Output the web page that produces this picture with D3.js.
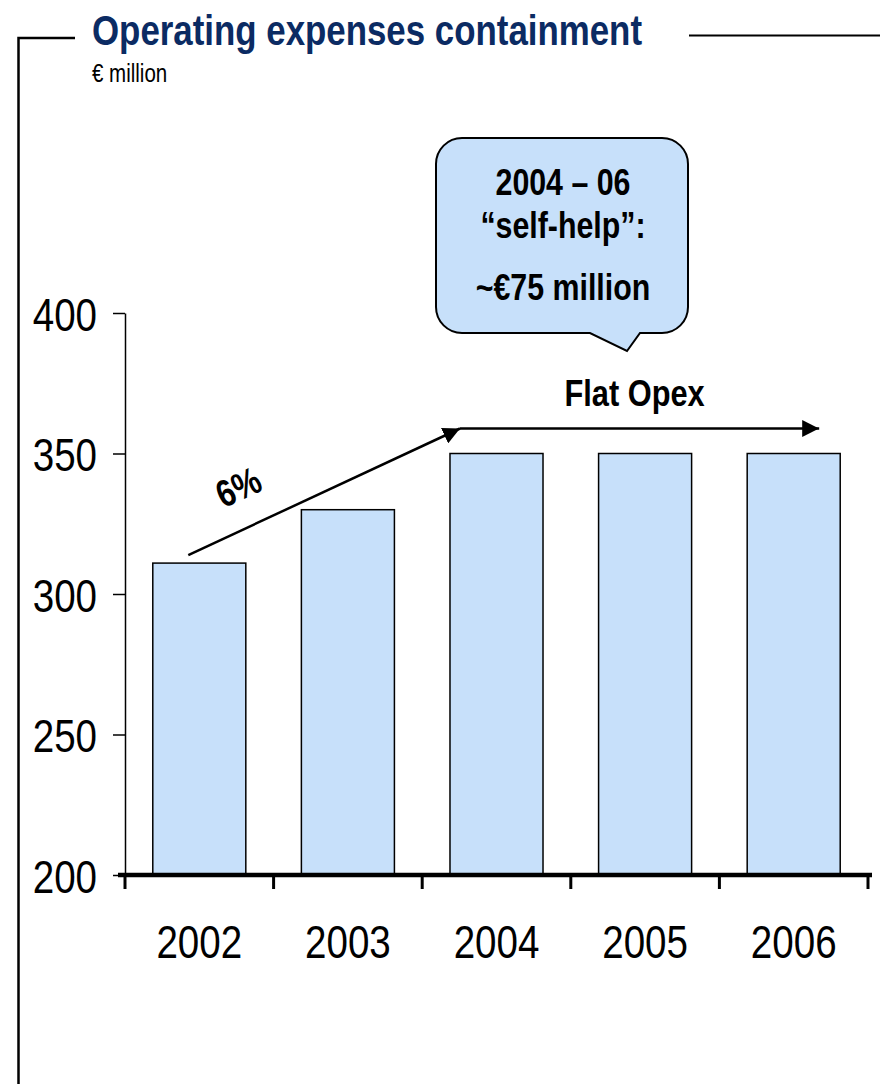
<!DOCTYPE html>
<html>
<head>
<meta charset="utf-8">
<script src="https://cdn.jsdelivr.net/npm/d3@7"></script>
<style>
  html, body { margin: 0; padding: 0; background: #ffffff; }
  svg { display: block; }
</style>
</head>
<body>
<svg id="chart" width="880" height="1084"></svg>
<script>
// ---- data ----
const years = ["2002", "2003", "2004", "2005", "2006"];
const opex = [311, 330, 350, 350, 350];
const yTicks = [200, 250, 300, 350, 400];
const title = "Operating expenses containment";
const unitLabel = "€ million";
const calloutLines = ["2004 – 06", "“self-help”:", "~€75 million"];
const growthLabel = "6%";
const flatLabel = "Flat Opex";

// ---- setup ----
const W = 880, H = 1084;
const svg = d3.select("#chart");
const NARROW = '"Liberation Sans Narrow", "Arial Narrow", "Liberation Sans", Arial, sans-serif';

// detect narrow font availability
const probe = svg.append("text").attr("x", -1000).attr("y", -1000)
  .style("font-family", '"Liberation Sans Narrow", "Liberation Sans"')
  .style("font-size", "100px").text("Operating expenses 2004");
const wN = probe.node().getComputedTextLength();
probe.style("font-family", '"Liberation Sans"');
const wR = probe.node().getComputedTextLength();
probe.remove();
const hasNarrow = wN < wR * 0.92;

function narrow(sel) {
  sel.style("font-family", NARROW);
  if (!hasNarrow) {
    sel.each(function () {
      const l = this.getComputedTextLength();
      this.setAttribute("textLength", (l * 0.82).toFixed(2));
      this.setAttribute("lengthAdjust", "spacingAndGlyphs");
    });
  }
  return sel;
}

const x = d3.scaleBand().domain(years).range([125, 868])
  .paddingInner(0.374).paddingOuter(0.187);
const y = d3.scaleLinear().domain([200, 400]).range([875, 313]);

const barFill = "#c7e0fa";
const navy = "#0b2b63";

// ---- frame ----
svg.append("path")
  .attr("d", "M75,38H18.5V" + H)
  .attr("fill", "none").attr("stroke", "#000").attr("stroke-width", 2.5);
svg.append("line")
  .attr("x1", 689).attr("x2", W).attr("y1", 35.5).attr("y2", 35.5)
  .attr("stroke", "#000").attr("stroke-width", 2);

// ---- title ----
svg.append("text").attr("x", 92).attr("y", 45)
  .attr("fill", navy).style("font-weight", "bold").style("font-size", "42.5px")
  .text(title).call(narrow);
svg.append("text").attr("x", 92).attr("y", 82)
  .attr("fill", "#000").style("font-size", "25px")
  .text(unitLabel).call(narrow);

// ---- bars ----
svg.append("g").selectAll("rect").data(years).join("rect")
  .attr("x", d => x(d))
  .attr("y", (d, i) => y(opex[i]))
  .attr("width", x.bandwidth())
  .attr("height", (d, i) => y(200) - y(opex[i]))
  .attr("fill", barFill).attr("stroke", "#000").attr("stroke-width", 1.5);

// ---- y axis ----
const yAxis = d3.axisLeft(y).tickValues(yTicks).tickSize(12).tickSizeOuter(0).tickPadding(16);
const gy = svg.append("g").attr("transform", "translate(125,0)").call(yAxis);
gy.select(".domain").attr("stroke", "#000").attr("stroke-width", 1.5);
gy.selectAll(".tick line").attr("stroke", "#000").attr("stroke-width", 1.5);
gy.selectAll(".tick text")
  .attr("fill", "#000").attr("dy", null).attr("y", 17)
  .style("font-size", "47px").call(narrow);

// ---- x axis ----
const step = x.step();
const xEdges = years.map(d => x(d) - x.paddingInner() * step / 2).concat([x(years[years.length - 1]) + x.bandwidth() + x.paddingInner() * step / 2]);
const gx = svg.append("g");
gx.append("line").attr("x1", 118).attr("x2", 872).attr("y1", y(200)).attr("y2", y(200))
  .attr("stroke", "#000").attr("stroke-width", 4.5);
gx.selectAll("line.tk").data(xEdges).join("line").attr("class", "tk")
  .attr("x1", d => d).attr("x2", d => d)
  .attr("y1", y(200)).attr("y2", y(200) + 14)
  .attr("stroke", "#000").attr("stroke-width", 3);
gx.selectAll("text").data(years).join("text")
  .attr("x", d => x(d) + x.bandwidth() / 2).attr("y", 958)
  .attr("text-anchor", "middle").attr("fill", "#000")
  .style("font-size", "47px").text(d => d).call(narrow);

// ---- arrows ----
const defs = svg.append("defs");
defs.append("marker").attr("id", "ah").attr("viewBox", "0 0 10 10")
  .attr("refX", 10).attr("refY", 5).attr("markerWidth", 17).attr("markerHeight", 17)
  .attr("markerUnits", "userSpaceOnUse")
  .attr("orient", "auto")
  .append("path").attr("d", "M0,0L10,5L0,10Z").attr("fill", "#000");

const gStartX = x("2002") + x.bandwidth() / 2 - 11;
const gStartY = y(opex[0]) - 8;
const gEndX = x("2004") + 10;
const gEndY = y(opex[2]) - 25;
svg.append("line").attr("x1", gStartX).attr("y1", gStartY).attr("x2", gEndX).attr("y2", gEndY)
  .attr("stroke", "#000").attr("stroke-width", 2.5).attr("marker-end", "url(#ah)");
const fEndX = x("2006") + 72;
svg.append("line").attr("x1", gEndX).attr("y1", gEndY).attr("x2", fEndX).attr("y2", gEndY)
  .attr("stroke", "#000").attr("stroke-width", 2.5).attr("marker-end", "url(#ah)");

const ang = Math.atan2(gEndY - gStartY, gEndX - gStartX) * 180 / Math.PI;
svg.append("text")
  .attr("transform", `translate(244,499) rotate(${ang})`)
  .attr("text-anchor", "middle").attr("fill", "#000")
  .style("font-weight", "bold").style("font-size", "38px")
  .text(growthLabel).call(narrow);

svg.append("text").attr("x", (gEndX + fEndX) / 2 - 5).attr("y", 406)
  .attr("text-anchor", "middle").attr("fill", "#000")
  .style("font-weight", "bold").style("font-size", "37.5px")
  .text(flatLabel).call(narrow);

// ---- callout ----
const bx0 = 436, bx1 = 688, by0 = 138, by1 = 333, r = 26;
const p = d3.path();
p.moveTo(bx0 + r, by0);
p.lineTo(bx1 - r, by0);
p.arcTo(bx1, by0, bx1, by0 + r, r);
p.lineTo(bx1, by1 - r);
p.arcTo(bx1, by1, bx1 - r, by1, r);
p.lineTo(640, by1);
p.lineTo(627, 351);
p.lineTo(590, by1);
p.lineTo(bx0 + r, by1);
p.arcTo(bx0, by1, bx0, by1 - r, r);
p.lineTo(bx0, by0 + r);
p.arcTo(bx0, by0, bx0 + r, by0, r);
p.closePath();
svg.append("path").attr("d", p.toString())
  .attr("fill", barFill).attr("stroke", "#000").attr("stroke-width", 2);

const cBase = [195, 238, 300];
svg.append("g").selectAll("text").data(calloutLines).join("text")
  .attr("x", 563).attr("y", (d, i) => cBase[i])
  .attr("text-anchor", "middle").attr("fill", "#000")
  .style("font-weight", "bold").style("font-size", "37px")
  .text(d => d).call(narrow);
</script>
</body>
</html>
